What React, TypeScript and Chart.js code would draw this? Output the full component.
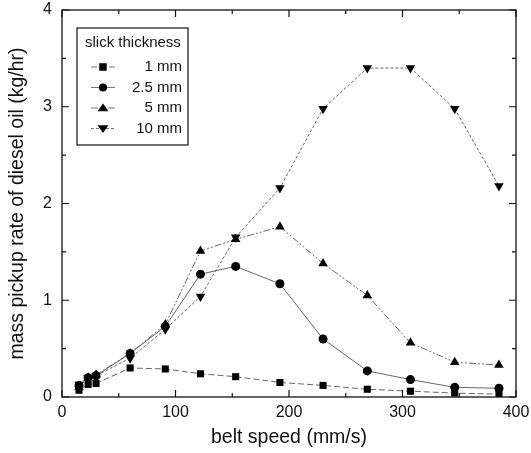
import React, { useEffect, useRef } from "react";
import { Chart, registerables } from "chart.js";

Chart.register(...registerables);

const beltSpeed = [15, 23, 30, 60, 91, 122, 153, 192, 230, 269, 307, 346, 385];
const series1mm = [0.07, 0.13, 0.14, 0.3, 0.29, 0.24, 0.21, 0.15, 0.12, 0.08, 0.06, 0.04, 0.03];
const series2_5mm = [0.12, 0.2, 0.22, 0.45, 0.73, 1.27, 1.35, 1.17, 0.6, 0.27, 0.18, 0.1, 0.09];
const series5mm = [0.1, 0.2, 0.23, 0.45, 0.75, 1.51, 1.63, 1.76, 1.38, 1.05, 0.56, 0.36, 0.33];
const series10mm = [0.13, 0.2, 0.22, 0.4, 0.7, 1.04, 1.65, 2.16, 2.98, 3.4, 3.4, 2.98, 2.18];
const seriesLabels = ["1 mm", "2.5 mm", "5 mm", "10 mm"];
const legendTitle = "slick thickness";
const xTicks = [0, 100, 200, 300, 400];
const yTicks = [0, 1, 2, 3, 4];

const FONT = "'Liberation Sans', Arial, Helvetica, sans-serif";

const framePlugin = {
  id: "frameTicks",
  afterDraw(chart: any) {
    const { ctx, chartArea: a } = chart;
    const xs = chart.scales.x;
    const ys = chart.scales.y;
    ctx.save();
    ctx.strokeStyle = "#111";
    ctx.lineWidth = 1.3;
    ctx.strokeRect(a.left, a.top, a.right - a.left, a.bottom - a.top);
    ctx.lineWidth = 1.2;
    for (let v = 0; v <= 400; v += 50) {
      const px = xs.getPixelForValue(v);
      const len = v % 100 === 0 ? 7 : 4;
      ctx.beginPath();
      ctx.moveTo(px, a.bottom);
      ctx.lineTo(px, a.bottom - len);
      ctx.moveTo(px, a.top);
      ctx.lineTo(px, a.top + len);
      ctx.stroke();
    }
    for (let v = 0; v <= 4; v += 0.5) {
      const py = ys.getPixelForValue(v);
      const len = v % 1 === 0 ? 7 : 4;
      ctx.beginPath();
      ctx.moveTo(a.left, py);
      ctx.lineTo(a.left + len, py);
      ctx.moveTo(a.right, py);
      ctx.lineTo(a.right - len, py);
      ctx.stroke();
    }
    // legend
    const bx = a.left + 15;
    const by = a.top + 18;
    const bw = 111;
    const bh = 117;
    ctx.lineWidth = 1.2;
    ctx.strokeRect(bx, by, bw, bh);
    ctx.fillStyle = "#111";
    ctx.font = `15px ${FONT}`;
    ctx.textBaseline = "middle";
    ctx.textAlign = "left";
    ctx.fillText(legendTitle, bx + 8, by + 15);
    chart.data.datasets.forEach((ds: any, i: number) => {
      const cy = by + 39 + i * 20.5;
      const mx = bx + 26;
      ctx.strokeStyle = "#777";
      ctx.lineWidth = 1;
      ctx.setLineDash(ds.borderDash || []);
      ctx.beginPath();
      ctx.moveTo(mx - 12, cy);
      ctx.lineTo(mx + 12, cy);
      ctx.stroke();
      ctx.setLineDash([]);
      ctx.fillStyle = "#000";
      ctx.strokeStyle = "#000";
      const r = ds.pointRadius;
      ctx.beginPath();
      if (ds.pointStyle === "rect") {
        ctx.fillRect(mx - r * 0.75, cy - r * 0.75, r * 1.5, r * 1.5);
      } else if (ds.pointStyle === "circle") {
        ctx.arc(mx, cy, r * 0.9, 0, Math.PI * 2);
        ctx.fill();
      } else {
        const down = ds.pointRotation === 180;
        const s = r;
        if (down) {
          ctx.moveTo(mx - s, cy - s * 0.6);
          ctx.lineTo(mx + s, cy - s * 0.6);
          ctx.lineTo(mx, cy + s * 0.8);
        } else {
          ctx.moveTo(mx - s, cy + s * 0.6);
          ctx.lineTo(mx + s, cy + s * 0.6);
          ctx.lineTo(mx, cy - s * 0.8);
        }
        ctx.closePath();
        ctx.fill();
      }
      ctx.fillStyle = "#111";
      ctx.textAlign = "right";
      ctx.font = `15px ${FONT}`;
      ctx.fillText(ds.label, bx + bw - 6, cy);
    });
    ctx.restore();
  },
};

export default function App() {
  const ref = useRef<HTMLCanvasElement | null>(null);
  useEffect(() => {
    document.body.style.margin = "0";
    const toPts = (arr: number[]) => arr.map((y, i) => ({ x: beltSpeed[i], y }));
    const mk = (label: string, data: number[], style: string, dash: number[], radius: number, rot = 0) => ({
      label,
      data: toPts(data),
      borderColor: "#666",
      borderWidth: 1,
      borderDash: dash,
      backgroundColor: "#000",
      pointBackgroundColor: "#000",
      pointBorderColor: "#000",
      pointBorderWidth: 0,
      pointStyle: style,
      pointRotation: rot,
      pointRadius: radius,
      tension: 0,
      fill: false,
    });
    const chart = new Chart(ref.current!, {
      type: "line",
      data: {
        datasets: [
          mk(seriesLabels[0], series1mm, "rect", [6, 3], 5),
          mk(seriesLabels[1], series2_5mm, "circle", [], 4.5),
          mk(seriesLabels[2], series5mm, "triangle", [7, 2, 2, 2, 2, 2], 5.5),
          mk(seriesLabels[3], series10mm, "triangle", [3, 2], 5.5, 180),
        ],
      },
      options: {
        animation: false,
        responsive: false,
        devicePixelRatio: 1,
        layout: { padding: { top: 10, right: 15, left: 0, bottom: 0 } },
        plugins: { legend: { display: false }, tooltip: { enabled: false } },
        scales: {
          x: {
            type: "linear",
            min: 0,
            max: 400,
            grid: { display: false, drawTicks: false },
            border: { display: false },
            afterBuildTicks: (s: any) => {
              s.ticks = xTicks.map((v) => ({ value: v }));
            },
            afterFit: (s: any) => {
              s.height = 56;
              s.paddingLeft = 0;
              s.paddingRight = 0;
            },
            ticks: { color: "#111", font: { family: FONT, size: 16 }, padding: 6 },
            title: {
              display: true,
              text: "belt speed (mm/s)",
              color: "#111",
              font: { family: FONT, size: 19.5 },
              padding: { top: 4, bottom: 4 },
            },
          },
          y: {
            type: "linear",
            min: 0,
            max: 4,
            grid: { display: false, drawTicks: false },
            border: { display: false },
            afterBuildTicks: (s: any) => {
              s.ticks = yTicks.map((v) => ({ value: v }));
            },
            afterFit: (s: any) => {
              s.width = 62;
              s.paddingTop = 0;
              s.paddingBottom = 0;
            },
            ticks: { color: "#111", font: { family: FONT, size: 16 }, padding: 10 },
            title: {
              display: true,
              text: "mass pickup rate of diesel oil (kg/hr)",
              color: "#111",
              font: { family: FONT, size: 19.5 },
              padding: { top: 6, bottom: 6 },
            },
          },
        },
      },
      plugins: [framePlugin],
    } as any);
    return () => chart.destroy();
  }, []);
  return <canvas ref={ref} width={531} height={453} style={{ display: "block" }} />;
}
